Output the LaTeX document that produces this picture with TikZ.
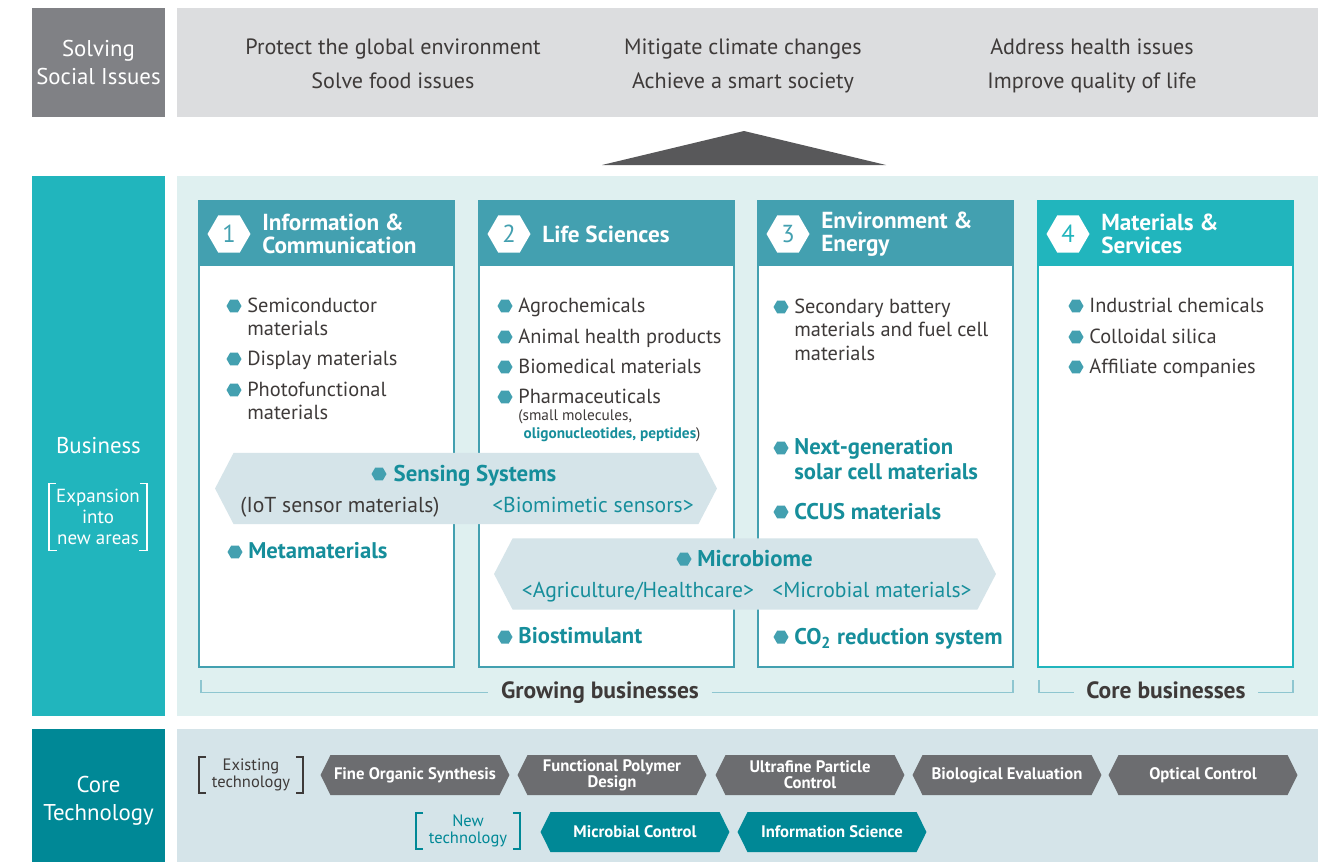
\documentclass[tikz,border=0pt]{standalone}
\usepackage{fontspec}
\setmainfont{PT Sans}
\setsansfont{PT Sans}
\usetikzlibrary{shapes.geometric, shapes.symbols}
\definecolor{cgreyhd}{HTML}{808185}
\definecolor{cgreybg}{HTML}{DCDDDF}
\definecolor{cdark}{HTML}{3E3A39}
\definecolor{ctri}{HTML}{58585A}
\definecolor{cteal}{HTML}{21B5BD}
\definecolor{cpale}{HTML}{DFF0F0}
\definecolor{chead}{HTML}{43A0B0}
\definecolor{cband}{HTML}{D5E4E9}
\definecolor{cdeep}{HTML}{008896}
\definecolor{cchev}{HTML}{6C6D70}
\definecolor{ctealtx}{HTML}{168E9B}
\tikzset{
  every picture/.style={font=\sffamily},
  side/.style={fill=#1, text=white, align=center, minimum width=2.66cm, inner sep=0pt, font=\sffamily\fontsize{13}{16.5}\selectfont},
  goal/.style={anchor=base, text=cdark, inner sep=0pt, font=\sffamily\fontsize{12.6}{13}\selectfont},
  colbody/.style={draw=#1, fill=white, line width=0.9pt, minimum width=5.1cm, minimum height=9.32cm, inner sep=0pt},
  colhead/.style={draw=#1, fill=#1, line width=0.9pt, minimum width=5.1cm, minimum height=1.28cm, inner sep=0pt},
  badge/.style={regular polygon, regular polygon sides=6, fill=white, minimum size=0.86cm, inner sep=0pt, font=\sffamily\fontsize{14}{14}\selectfont},
  headtxt/.style={anchor=west, align=left, text=white, inner sep=0pt, font=\sffamily\bfseries\fontsize{13.2}{13.2}\selectfont},
  bul/.style={regular polygon, regular polygon sides=6, fill=chead, minimum size=0.3cm, inner sep=0pt},
  item/.style={anchor=north west, align=left, inner sep=0pt, text=cdark, font=\sffamily\fontsize{11.6}{13.3}\selectfont},
  itemb/.style={item, text=ctealtx, font=\sffamily\bfseries\fontsize{12.9}{14.2}\selectfont},
  small/.style={item, font=\sffamily\fontsize{8.7}{10.2}\selectfont},
  band/.style={signal, signal to=east and west, signal pointer angle=125, fill=cband, minimum width=10.04cm, minimum height=1.43cm, inner sep=0pt},
  bandhd/.style={anchor=base, text=ctealtx, inner sep=0pt, font=\sffamily\bfseries\fontsize{13}{13}\selectfont},
  bandsub/.style={anchor=base, text=ctealtx, inner sep=0pt, font=\sffamily\fontsize{12.3}{12.3}\selectfont},
  chev/.style={signal, signal to=east and west, signal pointer angle=127, fill=#1, text=white, align=center, minimum width=3.78cm, minimum height=0.8cm, inner sep=0pt, font=\sffamily\bfseries\fontsize{9.5}{9.2}\selectfont},
  brktxt/.style={text=#1, align=center, minimum width=2.06cm, minimum height=0.7cm, inner sep=0pt, font=\sffamily\fontsize{9.4}{9.8}\selectfont},
  brk/.style={draw=#1, line width=0.9pt},
  rule/.style={draw=chead!60, line width=0.7pt},
  tally/.style={anchor=base, text=cdark, inner xsep=7pt, inner ysep=0pt, font=\sffamily\bfseries\fontsize{13.4}{13.4}\selectfont},
}
\begin{document}
\begin{tikzpicture}[x=0.02cm, y=-0.02cm]
  \useasboundingbox (0,0) rectangle (1329,862);
  % three bands, left labels
  \fill[cgreybg] (177,8) rectangle (1318,117);
  \fill[cpale] (177,176) rectangle (1318,716);
  \fill[cband] (177,729) rectangle (1318,862);
  \node[side=cgreyhd, minimum height=2.18cm] (solv) at (98.5,62.5) {Solving\\Social Issues};
  \node[side=cteal, minimum height=10.8cm] (bus) at (98.5,446) {Business};
  \node[side=cdeep, minimum height=2.88cm, font=\sffamily\fontsize{13}{15.9}\selectfont] (core) at (98.5,801) {Core\\Technology};
  \node[text=white, align=center, inner xsep=4pt, inner ysep=3pt, font=\sffamily\fontsize{10.8}{11.9}\selectfont] (expa) at (98,517) {Expansion\\into\\new areas};
  \draw[brk=white] ([xshift=4pt]expa.north west) -- (expa.north west) -- (expa.south west) -- ++(8,0);
  \draw[brk=white] ([xshift=-4pt]expa.north east) -- (expa.north east) -- (expa.south east) -- ++(-8,0);
  % social issues
  \foreach \n/\x/\y/\t in {1/393/54/{Protect the global environment}, 2/743/54/{Mitigate climate changes}, 3/1092/54/{Address health issues},
      4/393/88/{Solve food issues}, 5/743/88/{Achieve a smart society}, 6/1092/88/{Improve quality of life}}
    \node[goal] (g\n) at (\x,\y) {\t};
  \fill[ctri] (602,165) -- (744,131) -- (886,165) -- cycle;
  % the four business columns
  \foreach \i/\xl/\c/\t in {1/199/chead/{Information \&\\Communication}, 2/479/chead/{Life Sciences},
      3/758/chead/{Environment \&\\Energy}, 4/1038/cteal/{Materials \&\\Services}} {
    \node[colbody=\c] (col\i) at (\xl+127.5,434) {};
    \node[colhead=\c] (hd\i) at (\xl+127.5,233) {};
    \node[badge] (nb\i) at (\xl+30,234) {\textcolor{\c}{\i}};
    \node[headtxt] (ht\i) at (\xl+63,234) {\t};
  }
  \foreach \n/\x/\y/\t in {a/247/306/{Semiconductor\\materials}, b/247/359/{Display materials}, c/247/390/{Photofunctional\\materials},
      d/518/306/Agrochemicals, e/518/337/{Animal health products}, f/518/367/{Biomedical materials}, g/518/397/Pharmaceuticals,
      h/794/307/{Secondary battery\\materials and fuel cell\\materials},
      i/1089/306/{Industrial chemicals}, j/1089/337/{Colloidal silica}, k/1089/367/{Affiliate companies}} {
    \node[item] (it\n) at (\x,\y-8.5) {\t};
    \node[bul] (bl\n) at (\x-13,\y) {};
  }
  \node[small] (itsm) at (518,409) {(small molecules,\\\hspace*{3pt}\textcolor{ctealtx}{\bfseries oligonucleotides, peptides})};
  % new areas
  \foreach \n/\x/\y/\t in {l/248/552/Metamaterials, m/518/637/Biostimulant, n/794/448/{Next-generation\\solar cell materials},
      o/794/512/{CCUS materials}, p/794/637/{CO\textsubscript{2} reduction system}} {
    \node[itemb] (it\n) at (\x,\y-9.5) {\t};
    \node[bul] (bl\n) at (\x-13,\y) {};
  }
  \node[band] (sens) at (466,488.5) {};
  \node[bandhd] (senst) at (475,481) {Sensing Systems};
  \node[bul] (sensb) at (379,474) {};
  \node[bandsub, text=cdark] (iot) at (340,512) {(IoT sensor materials)};
  \node[bandsub] (bio) at (593,512) {<Biomimetic sensors>};
  \node[band] (micr) at (745,574) {};
  \node[bandhd] (micrt) at (755,566) {Microbiome};
  \node[bul] (micrb) at (684,559) {};
  \node[bandsub] (agri) at (638,597) {<Agriculture/Healthcare>};
  \node[bandsub] (mmat) at (872,597) {<Microbial materials>};
  % growing / core
  \node[tally] (grow) at (600,698) {Growing businesses};
  \node[tally] (corb) at (1166,698) {Core businesses};
  \coordinate (g0) at (201,680);
  \coordinate (g1) at (1013,680);
  \coordinate (c0) at (1039,680);
  \coordinate (c1) at (1293,680);
  \draw[rule] (g0) |- ([yshift=3.2pt]grow.base west);
  \draw[rule] ([yshift=3.2pt]grow.base east) -| (g1);
  \draw[rule] (c0) |- ([yshift=3.2pt]corb.base west);
  \draw[rule] ([yshift=3.2pt]corb.base east) -| (c1);
  % core technology
  \node[brktxt=cdark] (exist) at (251,775) {Existing\\technology};
  \node[brktxt=cdeep] (newt) at (468,831) {New\\technology};
  \foreach \b/\c in {exist/cdark, newt/cdeep} {
    \draw[brk=\c] ([xshift=4pt]\b.north west) -- (\b.north west) -- (\b.south west) -- ++(7,0);
    \draw[brk=\c] ([xshift=-4pt]\b.north east) -- (\b.north east) -- (\b.south east) -- ++(-7,0);
  }
  \foreach \n/\x/\t in {1/415/{Fine Organic Synthesis}, 2/612/{Functional Polymer\\Design}, 3/810/{Ultrafine Particle\\Control},
      4/1007/{Biological Evaluation}, 5/1203/{Optical Control}}
    \node[chev=cchev] (ex\n) at (\x,775) {\t};
  \foreach \n/\x/\t in {1/635/{Microbial Control}, 2/832/{Information Science}}
    \node[chev=cdeep] (nw\n) at (\x,832) {\t};
\end{tikzpicture}
\end{document}
